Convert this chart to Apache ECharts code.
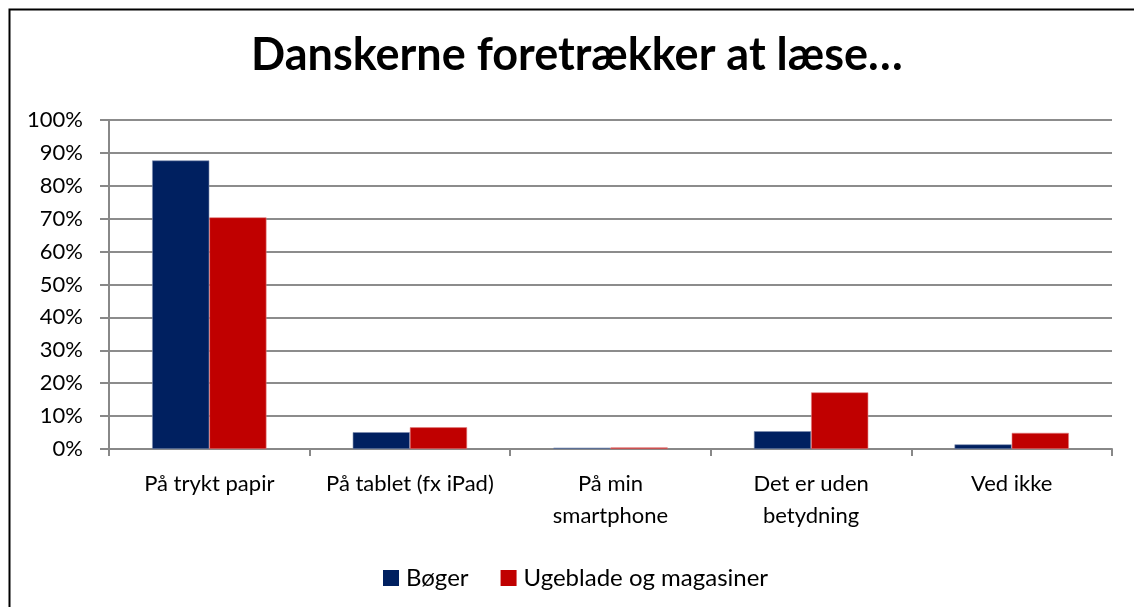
<!DOCTYPE html>
<html>
<head>
<meta charset="utf-8">
<script src="https://cdn.jsdelivr.net/npm/echarts@6/dist/echarts.min.js"></script>
<style>
html,body{margin:0;padding:0;background:#fff;}
#chart{width:1134px;height:607px;}
</style>
</head>
<body>
<div id="chart"></div>
<script>
const categories = ['På trykt papir', 'På tablet (fx iPad)', 'På min\nsmartphone', 'Det er uden\nbetydning', 'Ved ikke'];
const seriesNames = ['Bøger', 'Ugeblade og magasiner'];
const boger = [87.7, 5.1, 0.4, 5.4, 1.4];
const ugeblade = [70.4, 6.6, 0.5, 17.2, 4.9];
const yTicks = [0, 10, 20, 30, 40, 50, 60, 70, 80, 90, 100];

const FONT = 'Lato';
const chart = echarts.init(document.getElementById('chart'));
chart.setOption({
  animation: false,
  backgroundColor: '#fff',
  title: {
    text: 'Danskerne foretrækker at læse…',
    left: 246, top: 28,
    textStyle: {fontFamily: FONT, fontWeight: 'bold', fontSize: 45, color: '#000'}
  },
  graphic: [{
    type: 'rect', left: 7, top: 7, z: 100,
    shape: {width: 1140, height: 610},
    style: {fill: 'none', stroke: '#000', lineWidth: 2}
  }],
  legend: {
    data: seriesNames,
    left: 378, top: 561,
    itemWidth: 16, itemHeight: 16, itemGap: 32,
    icon: 'rect',
    itemStyle: {borderWidth: 0},
    textStyle: {fontFamily: FONT, fontSize: 24, color: '#000', padding: [0, 0, 0, 2]}
  },
  grid: {left: 109, right: 22, top: 120, bottom: 158, containLabel: false},
  xAxis: {
    type: 'category',
    data: categories,
    axisLine: {lineStyle: {color: '#888', width: 2}},
    axisTick: {show: true, length: 7, lineStyle: {color: '#888', width: 2}},
    axisLabel: {interval: 0, hideOverlap: false, fontFamily: FONT, fontSize: 22, color: '#000', margin: 19, lineHeight: 32}
  },
  yAxis: {
    type: 'value',
    min: 0, max: 100, interval: 10,
    axisLine: {show: true, lineStyle: {color: '#888', width: 2}},
    axisTick: {show: true, length: 9, lineStyle: {color: '#888', width: 2}},
    splitLine: {lineStyle: {color: '#8c8c8c', width: 2}},
    axisLabel: {fontFamily: FONT, fontSize: 22, color: '#000', margin: 26,
      formatter: v => yTicks.includes(v) ? v + '%' : ''}
  },
  series: [
    {name: seriesNames[0], type: 'bar', data: boger, barGap: '0%', barCategoryGap: '43%',
     itemStyle: {color: '#002060', borderColor: '#7f8fb0', borderWidth: 0.6}},
    {name: seriesNames[1], type: 'bar', data: ugeblade, barGap: '0%', barCategoryGap: '43%',
     itemStyle: {color: '#C00000', borderColor: '#e08080', borderWidth: 0.6}}
  ]
});
</script>
</body>
</html>
